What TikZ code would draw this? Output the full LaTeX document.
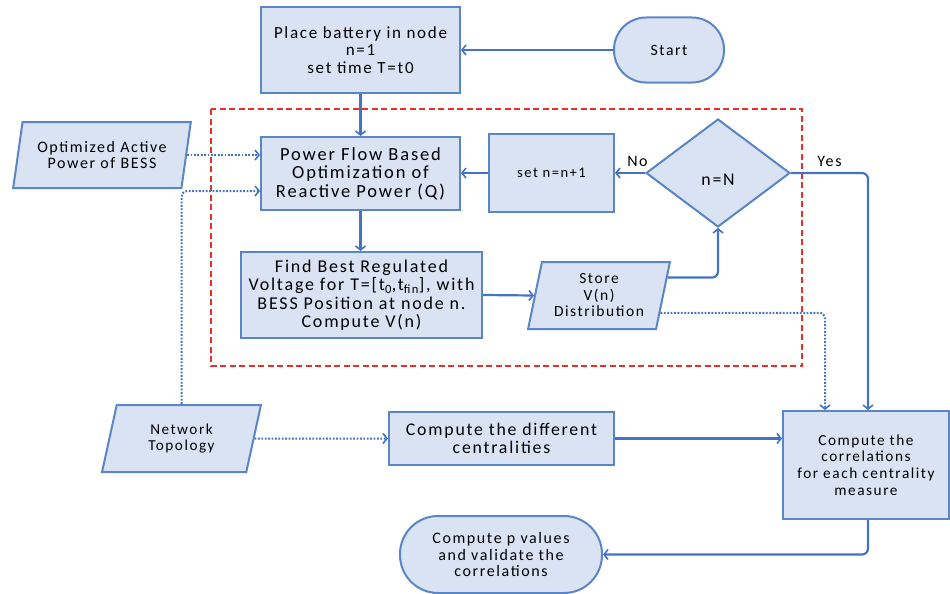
\documentclass[tikz,border=0pt]{standalone}
\usepackage{fontspec}
\setmainfont[LetterSpace=10]{Carlito}
\usetikzlibrary{arrows.meta,shapes.geometric,calc}
\definecolor{bfill}{HTML}{DAE3F3}
\definecolor{bbord}{HTML}{5A86C8}
\definecolor{lblue}{HTML}{4472C4}
\definecolor{rred}{HTML}{E8302A}
\newcommand{\fsz}[2]{\fontsize{#1}{#2}\selectfont}
\tikzset{
  box/.style={draw=bbord, fill=bfill, line width=2pt, align=center, inner sep=0pt, text=black},
  para/.style={box, trapezium, trapezium left angle=#1, trapezium right angle=180-#1, trapezium stretches=true},
  flow/.style={draw=lblue, line width=2.2pt, -{Straight Barb[length=4pt,width=10pt,line width=1.6pt]}},
  dflow/.style={draw=lblue, line width=2pt, dash pattern=on 1.8pt off 1.6pt, -{Straight Barb[length=4pt,width=10pt,line width=1.6pt]}},
  lbl/.style={font=\fsz{16}{17}, text=black},
}
\begin{document}
\begin{tikzpicture}[x=1pt,y=-1pt]
\useasboundingbox (0,0) rectangle (950,594);
% red dashed region
\draw[rred, line width=2pt, dash pattern=on 6pt off 3.5pt] (211,109) rectangle (802,366);
% nodes
\node[box, font=\fsz{17}{17.5}, minimum width=199pt, minimum height=86pt] (place) at (360.5,50) {Place battery in node\\n=1\\set time T=t0};
\node[box, font=\fsz{15.7}{17}, minimum width=110pt, minimum height=65pt, rounded corners=32pt] (start) at (669,50) {Start};
\node[box, font=\fsz{18.5}{18.5}, minimum width=199pt, minimum height=73pt] (power) at (360.5,173.5) {Power Flow Based\\Optimization of\\Reactive Power (Q)};
\node[box, font=\fsz{14.6}{15}, minimum width=125pt, minimum height=78pt] (setn) at (551.5,173) {set n=n+1};
\node[box, diamond, font=\fsz{17.8}{18}, minimum width=144pt, minimum height=108pt, aspect=1.33] (diam) at (718,173) {\raisebox{-12pt}[0pt][0pt]{n=N}};
\node[box, font=\fsz{18}{18.5}, minimum width=241pt, minimum height=86pt] (find) at (361.5,295) {Find Best Regulated\\Voltage for T=[t\textsubscript{0},t\textsubscript{fin}], with\\BESS Position at node n.\\Compute V(n)};
\node[para=75.8, font=\fsz{15.5}{16.5}, minimum width=142pt, minimum height=67pt] (store) at (599,295.5) {Store\\V(n)\\Distribution};
\node[para=74.7, font=\fsz{16}{16.7}, minimum width=178pt, minimum height=66pt] (opt) at (102,155) {Optimized Active\\Power of BESS};
\node[para=75.8, font=\fsz{15.2}{16.5}, minimum width=159pt, minimum height=67pt] (net) at (181.5,438.5) {Network\\Topology};
\node[box, font=\fsz{17.8}{18}, minimum width=225pt, minimum height=53pt] (cent) at (501.5,438.5) {Compute the different\\centralities};
\node[box, font=\fsz{15.3}{16.7}, minimum width=166pt, minimum height=108pt] (corr) at (866,465) {Compute the\\correlations\\for each centrality\\measure};
\node[box, font=\fsz{16}{16.5}, minimum width=202pt, minimum height=77pt, rounded corners=38pt] (pval) at (501,554.5) {Compute p values\\and validate the\\correlations};
% helper coordinates
\coordinate (sr1) at ($(store.top right corner)!0.24!(store.bottom right corner)$);
\coordinate (sr2) at ($(store.top right corner)!0.75!(store.bottom right corner)$);
% connectors
\draw[flow] (start.west) -- (place.east);
\draw[flow] (place.south) -- (power.north);
\draw[dflow] (opt.east) -- (opt.east -| power.west);
\draw[dflow, rounded corners=6pt] (net.north) |- ([yshift=-17.5pt]power.west);
\draw[flow] (setn.west) -- (setn.west -| power.east);
\draw[flow] (diam.west) -- node[pos=0.25, above=2pt, lbl] {No} (setn.east);
\draw[flow, rounded corners=6pt] (diam.east) -- node[pos=0.5, above=2pt, lbl] {Yes} ([xshift=2pt]diam.east -| corr.north) -- ([xshift=2pt]corr.north);
\draw[flow] (power.south) -- (power.south |- find.north);
\draw[flow] (find.east) -- (store.west);
\draw[flow, rounded corners=6pt] (sr1) -| (diam.south);
\draw[dflow, rounded corners=6pt] (sr2) -| ([xshift=-41pt]corr.north);
\draw[dflow] (net.east) -- (cent.west);
\draw[flow] (cent.east) -- (cent.east -| corr.west);
\draw[flow, rounded corners=6pt] ([xshift=2pt]corr.south) |- (pval.east);
\end{tikzpicture}
\end{document}
